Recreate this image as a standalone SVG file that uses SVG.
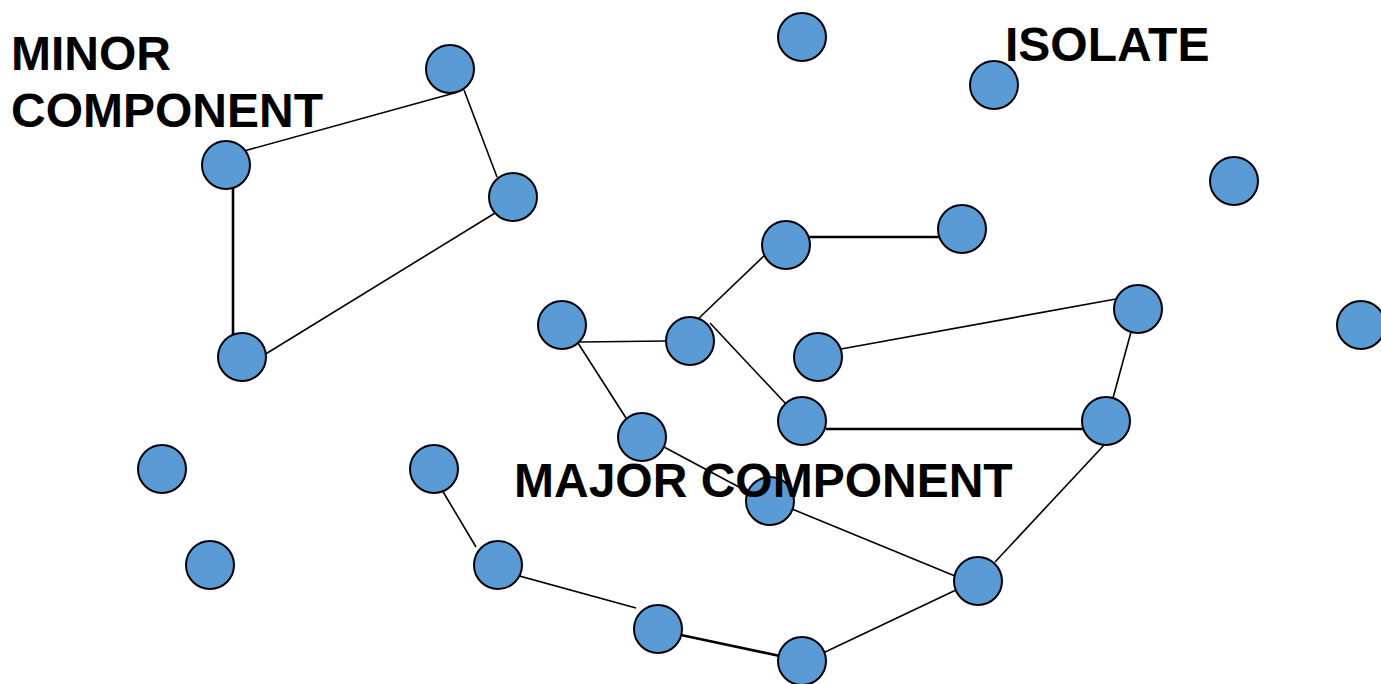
<svg xmlns="http://www.w3.org/2000/svg" width="1381" height="684" viewBox="0 0 1381 684">
  <style>
    .node { fill: #5B9BD5; stroke: #000; stroke-width: 2; }
    .edge { stroke: #000; stroke-width: 1.6; fill: none; }
    .edge.heavy { stroke-width: 2.6; }
    .label { font-family: "Liberation Sans", Arial, Helvetica, sans-serif; font-weight: bold; font-size: 48px; fill: #000; }
  </style>
  <rect width="1381" height="684" fill="#fff"/>

  <!-- connectors -->
  <g id="connectors">
    <line class="edge" x1="244" y1="151" x2="458" y2="92"/>
    <line class="edge" x1="464" y1="90" x2="497" y2="177"/>
    <line class="edge" x1="500" y1="210" x2="264" y2="355"/>
    <line class="edge heavy" x1="233" y1="188" x2="233" y2="336"/>
    <line class="edge heavy" x1="808" y1="237" x2="939" y2="237"/>
    <line class="edge" x1="697" y1="320" x2="768" y2="252"/>
    <line class="edge" x1="580" y1="342" x2="666" y2="341"/>
    <line class="edge" x1="710" y1="323" x2="786" y2="404"/>
    <line class="edge" x1="578" y1="343" x2="626" y2="418"/>
    <line class="edge" x1="664" y1="447" x2="752" y2="494"/>
    <line class="edge" x1="792" y1="509" x2="955" y2="576"/>
    <line class="edge" x1="841" y1="349" x2="1116" y2="299"/>
    <line class="edge" x1="1131" y1="332" x2="1113" y2="398"/>
    <line class="edge heavy" x1="826" y1="429" x2="1083" y2="429"/>
    <line class="edge" x1="1106" y1="443" x2="995" y2="562"/>
    <line class="edge" x1="956" y1="590" x2="823" y2="653"/>
    <line class="edge heavy" x1="780" y1="656" x2="681" y2="635"/>
    <line class="edge" x1="636" y1="608" x2="505" y2="572"/>
    <line class="edge" x1="476" y1="547" x2="442" y2="490"/>
  </g>

  <!-- nodes -->
  <g id="n1"><circle class="node" cx="450" cy="69" r="24"/></g>
  <g id="n2"><circle class="node" cx="226" cy="165" r="24"/></g>
  <g id="n3"><circle class="node" cx="513" cy="197" r="24"/></g>
  <g id="n4"><circle class="node" cx="242" cy="357" r="24"/></g>
  <g id="n5"><circle class="node" cx="802" cy="37" r="24"/></g>
  <g id="n6"><circle class="node" cx="994" cy="85" r="24"/></g>
  <g id="n7"><circle class="node" cx="1234" cy="181" r="24"/></g>
  <g id="n8"><circle class="node" cx="786" cy="245" r="24"/></g>
  <g id="n9"><circle class="node" cx="962" cy="229" r="24"/></g>
  <g id="n10"><circle class="node" cx="562" cy="325" r="24"/></g>
  <g id="n11"><circle class="node" cx="690" cy="341" r="24"/></g>
  <g id="n12"><circle class="node" cx="1138" cy="309" r="24"/></g>
  <g id="n13"><circle class="node" cx="818" cy="357" r="24"/></g>
  <g id="n14"><circle class="node" cx="1361" cy="325" r="24"/></g>
  <g id="n15"><circle class="node" cx="802" cy="421" r="24"/></g>
  <g id="n16"><circle class="node" cx="1106" cy="421" r="24"/></g>
  <g id="n17"><circle class="node" cx="642" cy="437" r="24"/></g>
  <g id="n18"><circle class="node" cx="162" cy="469" r="24"/></g>
  <g id="n19"><circle class="node" cx="434" cy="469" r="24"/></g>
  <g id="n20"><circle class="node" cx="770" cy="501" r="24"/></g>
  <g id="n21"><circle class="node" cx="498" cy="565" r="24"/></g>
  <g id="n22"><circle class="node" cx="210" cy="565" r="24"/></g>
  <g id="n23"><circle class="node" cx="978" cy="581" r="24"/></g>
  <g id="n24"><circle class="node" cx="658" cy="629" r="24"/></g>
  <g id="n25"><circle class="node" cx="802" cy="661" r="24"/></g>

  <!-- labels -->
  <g id="labels">
    <text class="label" x="11" y="70">MINOR</text>
    <text class="label" x="11" y="127">COMPONENT</text>
    <text class="label" x="1005" y="61">ISOLATE</text>
    <text class="label" x="514" y="497">MAJOR COMPONENT</text>
  </g>
</svg>
